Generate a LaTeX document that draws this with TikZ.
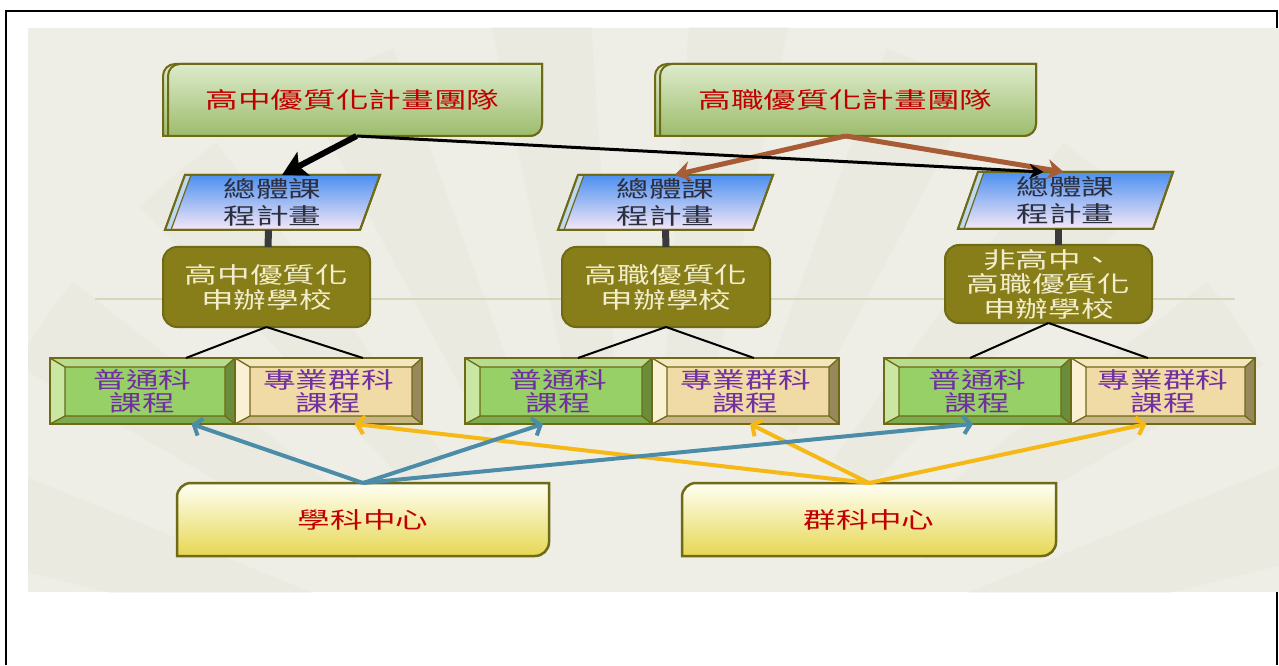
\documentclass[tikz,border=0pt]{standalone}
\usepackage{fontspec}
\newfontfamily\cjk[FakeStretch=1.45]{Noto Sans CJK TC}
\usetikzlibrary{arrows.meta,calc}
\definecolor{olivedk}{HTML}{6E6A16}
\definecolor{bgc}{HTML}{EFEEE6}
\definecolor{fanc}{HTML}{E3E2D8}
\definecolor{hline}{HTML}{D3D7BC}
\definecolor{teamtop}{HTML}{DDEBCB}
\definecolor{teambot}{HTML}{9DBC6C}
\definecolor{txtred}{HTML}{C00000}
\definecolor{paratop}{HTML}{4C90F0}
\definecolor{paramid}{HTML}{AECDF4}
\definecolor{parabot}{HTML}{F6E8F6}
\definecolor{parastrip}{HTML}{BFD8F2}
\definecolor{paratxt}{HTML}{2D2F3F}
\definecolor{schoolc}{HTML}{877D19}
\definecolor{schooltxt}{HTML}{F2EDCB}
\definecolor{purp}{HTML}{7030A0}
\definecolor{gface}{HTML}{97D066}
\definecolor{gtop}{HTML}{B6DC8E}
\definecolor{gleft}{HTML}{C9E6A3}
\definecolor{gright}{HTML}{6A8D3C}
\definecolor{gbot}{HTML}{7BAB4E}
\definecolor{zface}{HTML}{F0DAA6}
\definecolor{ztop}{HTML}{F5E6C0}
\definecolor{zleft}{HTML}{FAF0D4}
\definecolor{zright}{HTML}{98895C}
\definecolor{zbot}{HTML}{C9B584}
\definecolor{ctop}{HTML}{FFFFF4}
\definecolor{cbot}{HTML}{E6D752}
\definecolor{stemc}{HTML}{3A3A3A}
\definecolor{brownc}{HTML}{A85C35}
\definecolor{bluec}{HTML}{4B8CA9}
\definecolor{yellowc}{HTML}{F5B814}
\tikzset{
  lbl/.style={draw=none,inner sep=0pt,outer sep=0pt,align=center,
    font=\cjk\fontsize{22.5}{25}\selectfont},
  teamfill/.style={draw=olivedk,line width=2pt,top color=teamtop,bottom color=teambot},
  centerfill/.style={draw=olivedk,line width=2.5pt,top color=ctop,bottom color=cbot},
  schoolfill/.style={draw=olivedk,line width=2pt,fill=schoolc,rounded corners=14pt},
  parafill/.style={draw=olivedk,line width=2pt,top color=paratop,middle color=paramid,bottom color=parabot},
  thickarrow/.style={line width=6pt,-{Stealth[length=24pt,width=26pt,inset=5pt]}},
  thinarrow/.style={line width=3pt,-{Stealth[length=14pt,width=15pt]}},
  brownarrow/.style={brownc,line width=5pt,-{Stealth[length=16pt,width=20pt]}},
  bluearrow/.style={bluec,line width=4pt,-{Straight Barb[length=7pt,width=18pt]}},
  yellowarrow/.style={yellowc,line width=4pt,-{Straight Barb[length=7pt,width=18pt]}},
  stem/.style={stemc,line width=7pt},
  branch/.style={black,line width=2pt},
}
% top-left and bottom-right rounded box: style, x1, y1, x2, y2, radius
\newcommand\tlbrshape[6]{%
  \path[#1] (#2,#3) -- (#2,#5-#6) arc[start angle=180,end angle=90,radius=#6]
    -- (#4,#5) -- (#4,#3+#6) arc[start angle=0,end angle=-90,radius=#6] -- cycle;}
% parallelogram: top-left x, top-right x, bottom-left x, bottom-right x, top y, bottom y
\newcommand\parashape[6]{%
  \path[parafill] (#1,#5) -- (#2,#5) -- (#4,#6) -- (#3,#6) -- cycle;
  \fill[parastrip] (#1,#5) -- (#1+6,#5) -- (#3+6,#6) -- (#3,#6) -- cycle;
  \draw[olivedk,line width=1.2pt] (#1+6,#5) -- (#3+6,#6);
  \draw[olivedk,line width=2pt] (#1,#5) -- (#2,#5) -- (#4,#6) -- (#3,#6) -- cycle;}
% bevel box: x1, x2, colour prefix
\newcommand\bevelbox[3]{%
  \fill[#3top] (#1,307) -- (#2,307) -- (#2-10,298) -- (#1+15,298) -- cycle;
  \fill[#3left] (#1,241) -- (#1,307) -- (#1+15,298) -- (#1+15,249) -- cycle;
  \fill[#3right] (#2,241) -- (#2,307) -- (#2-10,298) -- (#2-10,249) -- cycle;
  \fill[#3bot] (#1,241) -- (#2,241) -- (#2-10,249) -- (#1+15,249) -- cycle;
  \fill[#3face] (#1+15,249) rectangle (#2-10,298);
  \draw[olivedk,line width=1.3pt] (#1+15,249) rectangle (#2-10,298)
    (#1,241) -- (#1+15,249) (#1,307) -- (#1+15,298)
    (#2,307) -- (#2-10,298) (#2,241) -- (#2-10,249);
  \draw[olivedk,line width=2.5pt] (#1,241) rectangle (#2,307);}
\begin{document}
\begin{tikzpicture}[x=1pt,y=1pt]
\useasboundingbox (0,0) rectangle (1279,665);
% frame
\draw[line width=1.5pt] (6,0) -- (6,654) -- (1277,654) -- (1277,0);
% background
\fill[bgc] (28,73) rectangle (1279,637);
\begin{scope}
  \clip (28,73) rectangle (1279,637);
  \foreach \a in {14,30,...,166} {
    \fill[fanc,opacity=0.3] ($(640,-60)+(\a:330)$) -- ($(640,-60)+(\a:720)$)
      arc[start angle=\a,end angle=\a+8,radius=720]
      -- ($(640,-60)+(\a+8:330)$)
      arc[start angle=\a+8,end angle=\a,radius=330] -- cycle;
  }
\end{scope}
\draw[hline,line width=1.5pt] (95,366) -- (1235,366);

% team boxes
\tlbrshape{teamfill}{163}{529}{542}{601}{12}
\tlbrshape{teamfill}{168}{529}{542}{601}{12}
\tlbrshape{teamfill}{655}{529}{1036}{601}{12}
\tlbrshape{teamfill}{660}{529}{1036}{601}{12}
% parallelograms
\parashape{185}{380}{165}{360}{490}{435}
\parashape{578}{773}{558}{753}{490}{435}
\parashape{978}{1173}{958}{1153}{493}{436}
% school boxes
\path[schoolfill] (163,338) rectangle (370,418);
\path[schoolfill] (562,338) rectangle (770,418);
\path[schoolfill] (945,342) rectangle (1152,420);
% bevel boxes
\bevelbox{50}{235}{g}
\bevelbox{235}{422}{z}
\bevelbox{465}{652}{g}
\bevelbox{652}{839}{z}
\bevelbox{884}{1071}{g}
\bevelbox{1071}{1255}{z}
% centre boxes
\tlbrshape{centerfill}{177}{109}{549}{182}{14}
\tlbrshape{centerfill}{682}{109}{1056}{182}{14}

% nodes
\node[lbl,minimum width=379pt,minimum height=72pt,text=txtred] (ta) at (352.5,565) {高中優質化計畫團隊};
\node[lbl,minimum width=381pt,minimum height=72pt,text=txtred] (tb) at (845.5,565) {高職優質化計畫團隊};
\node[lbl,minimum width=215pt,minimum height=55pt,text=paratxt,font=\cjk\fontsize{22.5}{27}\selectfont] (pa) at (272.5,462.5) {總體課\\程計畫};
\node[lbl,minimum width=215pt,minimum height=55pt,text=paratxt,font=\cjk\fontsize{22.5}{27}\selectfont] (pb) at (665.5,462.5) {總體課\\程計畫};
\node[lbl,minimum width=215pt,minimum height=57pt,text=paratxt,font=\cjk\fontsize{22.5}{27}\selectfont] (pc) at (1065.5,464.5) {總體課\\程計畫};
\node[lbl,minimum width=207pt,minimum height=80pt,text=schooltxt] (sa) at (266.5,378) {高中優質化\\申辦學校};
\node[lbl,minimum width=208pt,minimum height=80pt,text=schooltxt] (sb) at (666,378) {高職優質化\\申辦學校};
\node[lbl,minimum width=207pt,minimum height=78pt,text=schooltxt,font=\cjk\fontsize{22.5}{24.5}\selectfont] (sc) at (1048.5,381) {非高中、\\高職優質化\\申辦學校};
\node[lbl,minimum width=185pt,minimum height=66pt,text=purp,font=\cjk\fontsize{22.5}{23}\selectfont] (ga) at (142.5,274) {普通科\\課程};
\node[lbl,minimum width=187pt,minimum height=66pt,text=purp,font=\cjk\fontsize{22.5}{23}\selectfont] (za) at (328.5,274) {專業群科\\課程};
\node[lbl,minimum width=187pt,minimum height=66pt,text=purp,font=\cjk\fontsize{22.5}{23}\selectfont] (gb) at (558.5,274) {普通科\\課程};
\node[lbl,minimum width=187pt,minimum height=66pt,text=purp,font=\cjk\fontsize{22.5}{23}\selectfont] (zb) at (745.5,274) {專業群科\\課程};
\node[lbl,minimum width=187pt,minimum height=66pt,text=purp,font=\cjk\fontsize{22.5}{23}\selectfont] (gc) at (977.5,274) {普通科\\課程};
\node[lbl,minimum width=184pt,minimum height=66pt,text=purp,font=\cjk\fontsize{22.5}{23}\selectfont] (zc) at (1163,274) {專業群科\\課程};
\node[lbl,minimum width=372pt,minimum height=73pt,text=txtred] (ca) at (363,145.5) {學科中心};
\node[lbl,minimum width=374pt,minimum height=73pt,text=txtred] (cb) at (869,145.5) {群科中心};

% stems
\draw[stem] ($(pa.south)+(-4,0)$) -- ($(sa.north)+(1.5,0)$);
\draw[stem] (pb.south) -- (sb.north);
\draw[stem] ($(pc.south)+(-7.5,0)$) -- ($(sc.north)+(9.5,0)$);
% branches
\draw[branch] (sa.south) -- ($(ga.north west)!0.735!(ga.north east)$);
\draw[branch] (sa.south) -- ($(za.north west)!0.684!(za.north east)$);
\draw[branch] (sb.south) -- ($(gb.north west)!0.604!(gb.north east)$);
\draw[branch] (sb.south) -- ($(zb.north west)!0.545!(zb.north east)$);
\draw[branch] (sc.south) -- ($(gc.north west)!0.46!(gc.north east)$);
\draw[branch] (sc.south) -- ($(zc.north west)!0.418!(zc.north east)$);
% top arrows
\draw[brownarrow] (tb.south) -- ($(pb.north)+(9,0)$);
\draw[brownarrow] (tb.south) -- ($(pc.north)+(-2,0)$);
\draw[thinarrow] ($(ta.south)+(4,0)$) -- ($(pc.north)+(-22,0)$);
\draw[thickarrow] ($(ta.south)+(4,0)$) -- ($(pa.north)+(9.5,0)$);
% bottom arrows
\draw[yellowarrow] (cb.north) -- ($(za.south west)!0.64!(za.south east)$);
\draw[yellowarrow] (cb.north) -- ($(zb.south west)!0.524!(zb.south east)$);
\draw[yellowarrow] (cb.north) -- ($(zc.south west)!0.41!(zc.south east)$);
\draw[bluearrow] (ca.north) -- ($(ga.south west)!0.765!(ga.south east)$);
\draw[bluearrow] (ca.north) -- ($(gb.south west)!0.417!(gb.south east)$);
\draw[bluearrow] (ca.north) -- ($(gc.south west)!0.476!(gc.south east)$);
\end{tikzpicture}
\end{document}
